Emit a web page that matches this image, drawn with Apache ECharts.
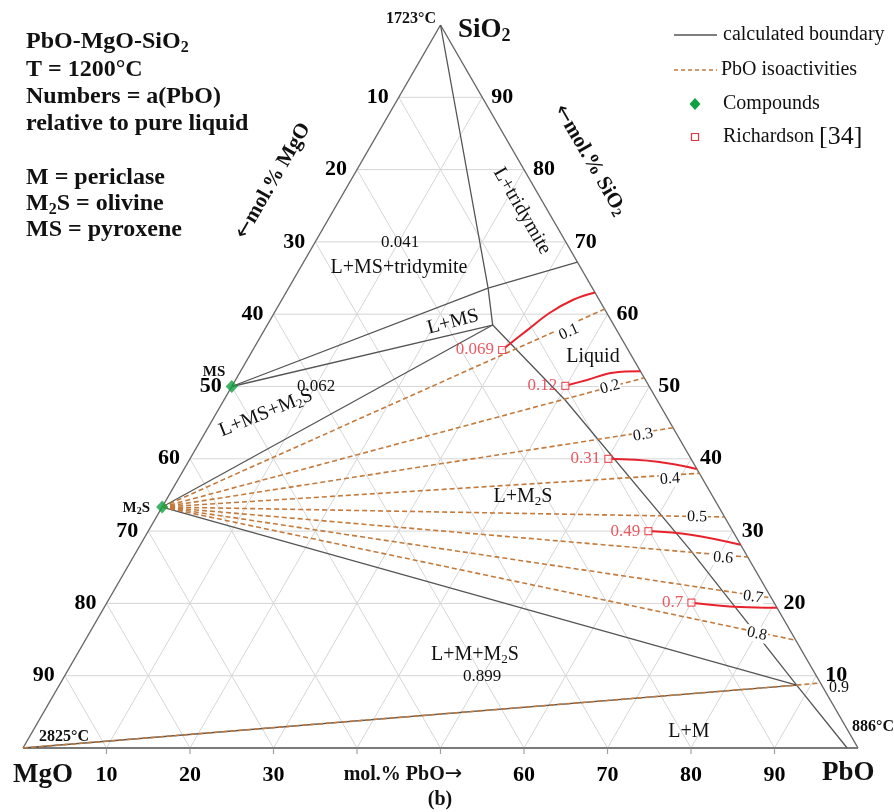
<!DOCTYPE html>
<html><head><meta charset="utf-8">
<script src="https://cdn.jsdelivr.net/npm/echarts@6/dist/echarts.min.js"></script>
<style>html,body{margin:0;padding:0;background:#fff}#c{width:894px;height:812px}</style>
</head><body><div id="c"></div>
<script>
// ---- data: compositions as [mol% PbO, mol% SiO2] ----
const ticks = [10,20,30,40,50,60,70,80,90];
const bottomTicks = [10,20,30,60,70,80,90];
const compounds = [[0,50],[0,33.33]];            // MS, M2S
const edges = [[[0,0],[100,0]],[[0,0],[0,100]],[[100,0],[0,100]]];
const boundaryLines = [
  [[0,100],[23.9,63.6],[27.0,58.5]],
  [[0,50],[23.9,63.6],[32.8,67.2]],
  [[0,50],[27.0,58.5]],
  [[0,33.33],[27.0,58.5]],
  [[27.0,58.5],[40.9,48.1],[66.2,27.4],[88.3,8.7]],
  [[0,33.33],[88.3,8.7]],
  [[0,0],[88.3,8.7]],
  [[88.3,8.7],[98.7,0]]
];
const isoValues = [0.1,0.2,0.3,0.4,0.5,0.6,0.7,0.8];
const isoStart = [0,33.33];
const isoEnds = [[39.3,60.7],[48.8,51.2],[55.7,44.3],[62.0,38.0],[68.05,31.95],[73.6,26.4],[79.25,20.75],[85.1,14.9]];
const iso09 = [[0,0],[88.3,8.7],[91.0,9.0]];
const richardsonValues = [0.069,0.12,0.31,0.49,0.7];
const richardsonPoints = [[29.85,55.05],[39.9,50.1],[50.1,40.0],[59.9,30.0],[70.0,20.1]];
const richardsonCurves = [
  [[29.85,55.05],[31.5,57.8],[33.0,60.2],[34.9,62.0],[37.0,63.0]],
  [[39.9,50.1],[42.1,50.9],[44.7,51.9],[47.9,52.1]],
  [[50.1,40.0],[56.2,39.6],[61.4,38.6]],
  [[59.9,30.0],[65.2,29.5],[71.9,28.1]],
  [[70.0,20.1],[76.1,19.5],[80.6,19.4]]
];

// ternary -> cartesian (x in [0,1], y = SiO2 fraction)
function T(q){ return [(q[0] + q[1]/2)/100, q[1]/100]; }

const F = '"Liberation Serif","Times New Roman",serif';
const chart = echarts.init(document.getElementById('c'));

const gridLines = [];
ticks.forEach(t => {
  gridLines.push([[0,t],[100-t,t]]);
  gridLines.push([[t,0],[t,100-t]]);
  gridLines.push([[100-t,0],[0,100-t]]);
});

function linesSeries(arr, style, z){
  return {type:'lines', coordinateSystem:'cartesian2d', polyline:true, silent:true, z:z,
    data: arr.map(l => ({coords: l.map(T)})),
    lineStyle: Object.assign({opacity:1}, style)};
}

const isoLines = isoEnds.map(e => [isoStart, e]);
isoLines.push(iso09);

function tickSeries(data, pos, dist){
  return {type:'scatter', symbolSize:0.01, silent:true, itemStyle:{color:'#000'}, z:5,
    data: data,
    label:{show:true, position:pos, distance:dist, formatter: p => p.name,
      fontFamily:F, fontSize:22, fontWeight:'bold', color:'#000', opacity:1,
      textBorderWidth:0, textBorderColor:'transparent'}};
}

const series = [
  linesSeries(gridLines, {color:'#d6d6d6', width:1}, 1),
  linesSeries([edges[1], edges[2]], {color:'#666', width:1.4}, 3),
  linesSeries([edges[0]], {color:'#7a7a7a', width:2.2}, 3),
  linesSeries(boundaryLines, {color:'#555', width:1.3}, 3),
  linesSeries(isoLines, {color:'#c47a3c', width:1.6, type:[5,3]}, 4),
  tickSeries(ticks.map(t => ({name:String(t), value:T([0,100-t])})), 'left', 10),
  tickSeries(ticks.map(t => ({name:String(t), value:T([100-t,t])})), 'right', 9),
  tickSeries(bottomTicks.map(t => ({name:String(t), value:T([t,0])})), 'bottom', 16),
  {type:'scatter', symbol:'rect', symbolSize:[1.2,6], symbolOffset:[0,3], silent:true, z:3,
    itemStyle:{color:'#888'}, data: ticks.map(t => T([t,0]))},
  {type:'scatter', symbol:'diamond', symbolSize:[12,13], z:8, silent:true,
    itemStyle:{color:'#12a040'}, data: compounds.map(T)}
];
richardsonCurves.forEach(c => series.push({type:'line', smooth:0.4, symbol:'none', silent:true, z:6,
  lineStyle:{color:'#e8222c', width:2}, data:c.map(T)}));
series.push({type:'scatter', symbol:'rect', symbolSize:7, z:9, silent:true,
  itemStyle:{color:'#fff', borderColor:'#e8323c', borderWidth:1.2},
  data: richardsonPoints.map((q,i) => ({name:String(richardsonValues[i]), value:T(q)})),
  label:{show:true, position:'left', distance:4, formatter:p=>p.name, fontFamily:F, fontSize:17, color:'#e3303a'}});

function tx(x, y, text, o){
  o = o || {};
  const al = o.align || 'center';
  return {type:'text', x:x, y:y, rotation:o.rot||0, z:100, silent:true,
    style:{text:text, fill:o.color||'#111', fontFamily:F, fontSize:o.size||20,
      fontWeight:o.bold?'bold':'normal', align:al, textAlign:al,
      verticalAlign:'middle', textVerticalAlign:'middle', rich:o.rich,
      backgroundColor:o.bg, padding:o.pad}};
}
function subRich(size, bold, color){
  const w = bold ? 'bold' : 'normal';
  return {n:{fontFamily:F, fontSize:size, fontWeight:w, color:color||'#111'},
          s:{fontFamily:F, fontSize:Math.round(size*0.65), fontWeight:w, color:color||'#111', padding:[Math.round(size*0.45),0,0,0]},
          ar:{fontFamily:'"DejaVu Sans",sans-serif', fontSize:Math.round(size*1.05), color:color||'#111'}};
}
const D = Math.PI/180;
const graphics = [
  // top-left description
  tx(26,42,'{n|PbO-MgO-SiO}{s|2}',{align:'left', rich:subRich(24,true)}),
  tx(26,70,'T = 1200°C',{align:'left', bold:true, size:24}),
  tx(26,97,'Numbers = a(PbO)',{align:'left', bold:true, size:24}),
  tx(26,124,'relative to pure liquid',{align:'left', bold:true, size:24}),
  tx(26,178,'M = periclase',{align:'left', bold:true, size:24}),
  tx(26,204,'{n|M}{s|2}{n|S = olivine}',{align:'left', rich:subRich(24,true)}),
  tx(26,230,'MS = pyroxene',{align:'left', bold:true, size:24}),
  // vertices
  tx(458,30,'{n|SiO}{s|2}',{align:'left', rich:subRich(27,true)}),
  tx(386,19,'1723°C',{align:'left', bold:true, size:16}),
  tx(39,737,'2825°C',{align:'left', bold:true, size:16}),
  tx(852,727,'886°C',{align:'left', bold:true, size:16}),
  tx(13,775,'MgO',{align:'left', bold:true, size:27}),
  tx(822,773,'PbO',{align:'left', bold:true, size:27}),
  tx(440,800,'(b)',{bold:true, size:20}),
  // axis titles
  tx(403,775,'{n|mol.% PbO}{ar|→}',{rich:subRich(20,true)}),
  tx(273,181,'{ar|←}{n|mol.% MgO}',{rich:subRich(21,true), rot:60*D}),
  tx(590,160,'{ar|←}{n|mol.% SiO}{s|2}',{rich:subRich(21,true), rot:-60*D}),
  // compound labels
  tx(214,372,'MS',{bold:true, size:15}),
  tx(150,508,'{n|M}{s|2}{n|S}',{align:'right', rich:subRich(15,true)}),
  // region labels
  tx(522,211,'L+tridymite',{size:20, rot:-60*D}),
  tx(400,243,'0.041',{size:17}),
  tx(399,268,'L+MS+tridymite',{size:20}),
  tx(453,322,'L+MS',{size:20, rot:15*D}),
  tx(316,387,'0.062',{size:17}),
  tx(266,413,'{n|L+MS+M}{s|2}{n|S}',{rich:subRich(20,false), rot:22*D}),
  tx(593,357,'Liquid',{size:20}),
  tx(523,497,'{n|L+M}{s|2}{n|S}',{rich:subRich(20,false)}),
  tx(475,655,'{n|L+M+M}{s|2}{n|S}',{rich:subRich(20,false)}),
  tx(482,677,'0.899',{size:17}),
  tx(689,732,'L+M',{size:20}),
  // isoactivity labels
  tx(569,332,'0.1',{size:16, rot:24*D, bg:'#fff', pad:[0,1]}),
  tx(610,387,'0.2',{size:16, rot:15*D, bg:'#fff', pad:[0,1]}),
  tx(643,435,'0.3',{size:16, rot:9*D, bg:'#fff', pad:[0,1]}),
  tx(670,479,'0.4',{size:16, rot:4*D, bg:'#fff', pad:[0,1]}),
  tx(697,517,'0.5',{size:16, rot:-1*D, bg:'#fff', pad:[0,1]}),
  tx(723,558,'0.6',{size:16, rot:-5*D, bg:'#fff', pad:[0,1]}),
  tx(753,597,'0.7',{size:16, rot:-8*D, bg:'#fff', pad:[0,1]}),
  tx(757,634,'0.8',{size:16, rot:-12*D, bg:'#fff', pad:[0,1]}),
  tx(839,688,'0.9',{size:16}),
  // legend
  {type:'line', z:100, shape:{x1:674,y1:35,x2:717,y2:35}, style:{stroke:'#555', lineWidth:1.5}},
  {type:'line', z:100, shape:{x1:674,y1:70,x2:717,y2:70}, style:{stroke:'#c47a3c', lineWidth:1.6, lineDash:[4,3]}},
  {type:'polygon', z:100, shape:{points:[[695,98],[700.5,104],[695,110],[689.5,104]]}, style:{fill:'#12a040'}},
  {type:'rect', z:100, shape:{x:691.5,y:133.5,width:7,height:7}, style:{fill:'#fff', stroke:'#e8323c', lineWidth:1.2}},
  tx(723,35,'calculated boundary',{align:'left', size:20}),
  tx(721,70,'PbO isoactivities',{align:'left', size:20}),
  tx(723,104,'Compounds',{align:'left', size:20}),
  tx(723,137,'{a|Richardson }{b|[34]}',{align:'left', rich:{
    a:{fontFamily:F, fontSize:20, color:'#e3303a'}, b:{fontFamily:F, fontSize:26, color:'#e3303a'}}})
];

chart.setOption({
  animation:false,
  backgroundColor:'#fff',
  grid:{left:23, top:25, width:835, height:723},
  xAxis:{type:'value', min:0, max:1, show:false},
  yAxis:{type:'value', min:0, max:1, show:false},
  series: series,
  graphic: graphics
});
</script></body></html>
